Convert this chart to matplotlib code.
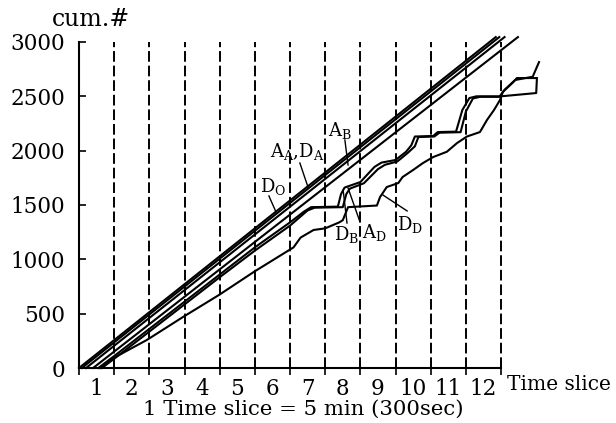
import matplotlib.pyplot as plt
import numpy as np

plt.rcParams['font.family'] = ['DejaVu Serif']

# cumulative counts per time slice
x_do = [0.0, 11.85]
y_do = [0, 3045]
x_aa = [0.08, 11.95]
y_aa = [0, 3045]
x_da = [0.2, 12.1]
y_da = [0, 3045]
x_ab = [0.4, 12.48]
y_ab = [0, 3045]

x_db = [0.55, 1, 2, 3, 4, 5, 6, 6.4, 6.6, 7.36, 7.45, 7.55, 8.0, 8.4, 8.6, 9.0, 9.3,
        9.45, 9.55, 10.07, 10.2, 10.72, 10.9, 11.1, 11.3, 12.0, 12.5, 13.0, 13.02]
y_db = [0, 110, 360, 610, 860, 1110, 1340, 1440, 1480, 1485, 1600, 1660, 1711, 1850,
        1890, 1914, 1990, 2050, 2130, 2135, 2171, 2175, 2374, 2484, 2500, 2500, 2515,
        2530, 2668]

x_ad = [0.65, 1, 2, 3, 4, 5, 6, 6.5, 6.7, 7.5, 7.6, 7.7, 8.1, 8.5, 8.7, 9.05, 9.35,
        9.55, 9.65, 10.1, 10.25, 10.85, 11.0, 11.2, 11.4, 11.95, 12.1, 12.4, 12.9, 13.08]
y_ad = [0, 85, 335, 585, 835, 1080, 1310, 1450, 1475, 1480, 1600, 1650, 1700, 1830,
        1870, 1900, 1980, 2040, 2125, 2130, 2165, 2170, 2360, 2480, 2495, 2495, 2560,
        2650, 2680, 2815]

x_dd = [0.6, 0.88, 1.93, 2.97, 3.98, 4.98, 5.98, 6.1, 6.3, 6.67, 7.0, 7.4, 7.5, 7.65,
        8.47, 8.56, 8.75, 9.08, 9.2, 9.5, 9.78, 10.07, 10.46, 10.75, 11.03, 11.4, 11.6,
        11.8, 11.97, 12.05, 12.35, 12.45, 13.0]
y_dd = [0, 74, 258, 472, 672, 886, 1086, 1110, 1200, 1270, 1285, 1340, 1360, 1480,
        1495, 1573, 1665, 1702, 1757, 1822, 1886, 1941, 1990, 2070, 2130, 2171, 2282,
        2374, 2466, 2540, 2631, 2668, 2668]

slices = list(range(1, 13))
y_ticks = [0, 500, 1000, 1500, 2000, 2500, 3000]

fig = plt.figure(figsize=(6.16, 4.23), dpi=100)
ax = fig.add_axes([79 / 616, 55 / 423, 474.8 / 616, 336.9 / 423])
ax.set_xlim(0, 13.5)
ax.set_ylim(0, 3100)

# boundaries between slices
ax.vlines(slices, 0, 3000, colors='black', linewidth=1.4, linestyles=(0, (5.5, 2)))

for xs, ys in [(x_do, y_do), (x_aa, y_aa), (x_da, y_da), (x_ab, y_ab),
               (x_db, y_db), (x_ad, y_ad), (x_dd, y_dd)]:
    ax.plot(xs, ys, color='black', linewidth=1.5, clip_on=False)

for sp in ['top', 'right']:
    ax.spines[sp].set_visible(False)
ax.spines['left'].set_bounds(0, 3000)
ax.spines['bottom'].set_bounds(0, 12)
ax.spines['left'].set_linewidth(1.5)
ax.spines['bottom'].set_linewidth(1.5)

ax.set_yticks(y_ticks)
ax.tick_params(axis='y', direction='in', length=5, width=1.2, labelsize=15.5, pad=10)
ax.set_xticks(range(0, 13))
ax.set_xticklabels([])
ax.set_xticks([s - 0.5 for s in slices], minor=True)
ax.set_xticklabels([str(s) for s in slices], minor=True)
ax.tick_params(axis='x', which='major', direction='inout', length=10, width=1.2)
ax.tick_params(axis='x', which='minor', length=0, labelsize=15.5, pad=7)

# curve labels with pointers
labels = [
    (r'A$_\mathregular{A}$,D$_\mathregular{A}$', 6.2, 1988, (6.28, 1886), (6.51, 1666)),
    (r'A$_\mathregular{B}$', 7.42, 2181, (7.56, 2098), (7.65, 1868)),
    (r'D$_\mathregular{O}$', 5.52, 1666, (5.40, 1583), (5.60, 1436)),
    (r'D$_\mathregular{B}$', 7.62, 1233, (7.62, 1334), (7.51, 1638)),
    (r'A$_\mathregular{D}$', 8.39, 1251, (7.99, 1343), (7.65, 1656)),
    (r'D$_\mathregular{D}$', 9.41, 1316, (9.33, 1445), (8.64, 1592)),
]
for txt, tx, ty, p0, p1 in labels:
    ax.text(tx, ty, txt, fontsize=13, ha='center', va='center')
    ax.plot([p0[0], p1[0]], [p0[1], p1[1]], color='black', linewidth=1.0)

fig.text(91 / 616, 1 - 19 / 423, 'cum.#', fontsize=17, ha='center', va='center')
fig.text(507 / 616, 1 - 384 / 423, 'Time slice', fontsize=14.5, ha='left', va='center')
fig.text(303 / 616, 1 - 409 / 423, '1 Time slice = 5 min (300sec)', fontsize=15.3,
         ha='center', va='center')

fig.savefig('out.png', dpi=100, facecolor='white')
